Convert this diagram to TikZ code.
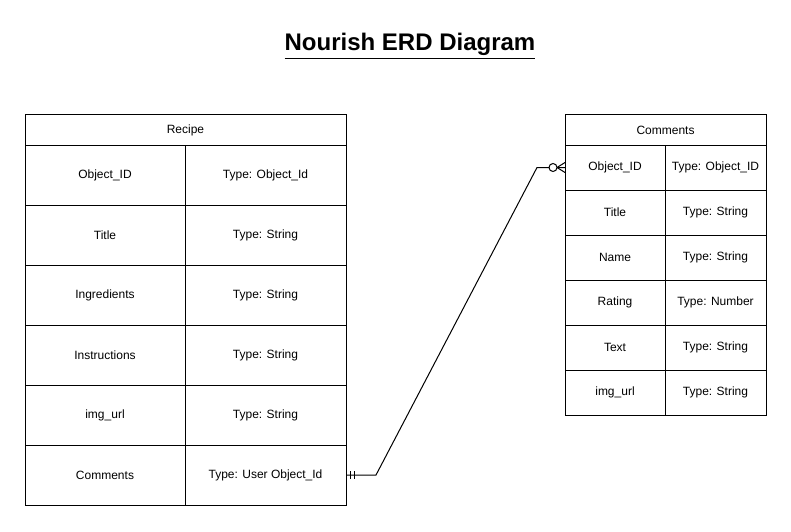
\documentclass[tikz,border=0pt]{standalone}
\usepackage{fontspec}
\setmainfont{Liberation Sans}
\usepackage{tikz}

\begin{document}
\begin{tikzpicture}[x=0.75pt,y=-0.75pt,inner sep=0pt,outer sep=0pt,line width=0.75pt,
cell/.style={draw,rectangle,font=\fontsize{9}{11}\selectfont},
rkey/.style={cell,minimum width=120pt,minimum height=45pt},
rval/.style={cell,minimum width=120.75pt,minimum height=45pt},
ckey/.style={cell,minimum width=75pt,minimum height=33.75pt},
cval/.style={cell,minimum width=75.75pt,minimum height=33.75pt}]

\useasboundingbox (0,0) rectangle (791,531);

\draw (410,46) node[font=\fontsize{18}{21}\selectfont\bfseries] (title) {\underline{Nourish ERD Diagram}};

% Recipe table
\draw (185.5,130) node[cell,minimum width=240.75pt,minimum height=22.5pt] (recipe) {Recipe};
\draw (105,175) node[rkey] (rk1) {Object\_ID};
\draw (265.5,175) node[rval] (rv1) {Type: Object\_Id};
\draw (105,235) node[rkey] (rk2) {Title};
\draw (265.5,235) node[rval] (rv2) {Type: String};
\draw (105,295) node[rkey] (rk3) {Ingredients};
\draw (265.5,295) node[rval] (rv3) {Type: String};
\draw (105,355) node[rkey] (rk4) {Instructions};
\draw (265.5,355) node[rval] (rv4) {Type: String};
\draw (105,415) node[rkey] (rk5) {img\_url};
\draw (265.5,415) node[rval] (rv5) {Type: String};
\draw (105,475) node[rkey] (rk6) {Comments};
\draw (265.5,475) node[rval] (rv6) {Type: User Object\_Id};

% Comments table
\draw (665.5,130) node[cell,minimum width=150.75pt,minimum height=22.5pt] (comments) {Comments};
\draw (615,167.5) node[ckey] (ck1) {Object\_ID};
\draw (715.5,167.5) node[cval] (cv1) {Type: Object\_ID};
\draw (615,212.5) node[ckey] (ck2) {Title};
\draw (715.5,212.5) node[cval] (cv2) {Type: String};
\draw (615,257.5) node[ckey] (ck3) {Name};
\draw (715.5,257.5) node[cval] (cv3) {Type: String};
\draw (615,302.5) node[ckey] (ck4) {Rating};
\draw (715.5,302.5) node[cval] (cv4) {Type: Number};
\draw (615,347.5) node[ckey] (ck5) {Text};
\draw (715.5,347.5) node[cval] (cv5) {Type: String};
\draw (615,392.5) node[ckey] (ck6) {img\_url};
\draw (715.5,392.5) node[cval] (cv6) {Type: String};

% relation: one recipe -- many comments
\coordinate (bend1) at (376,475);
\coordinate (bend2) at (537,167.5);
\draw (rv6.east) -- (bend1) -- (bend2) -- (ck1.west);
\draw (rv6.east) ++(4,-4) -- ++(0,8);
\draw (rv6.east) ++(8,-4) -- ++(0,8);
\draw[fill=white] (ck1.west) ++(-12,0) circle[radius=3pt];
\draw (ck1.west) ++(-8,0) -- ++(8,-5);
\draw (ck1.west) ++(-8,0) -- ++(8,5);

\end{tikzpicture}
\end{document}
